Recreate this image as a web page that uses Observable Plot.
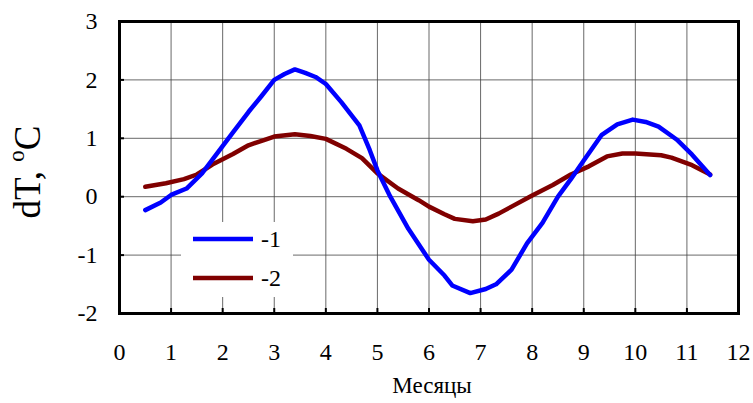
<!DOCTYPE html>
<html>
<head>
<meta charset="utf-8">
<script src="https://cdn.jsdelivr.net/npm/d3@7"></script>
<script src="https://cdn.jsdelivr.net/npm/@observablehq/plot@0.6"></script>
<style>
  html, body { margin: 0; padding: 0; background: #fff; }
  #wrap { position: relative; width: 753px; height: 403px; font-family: "Liberation Serif", "Times New Roman", serif; }
  #wrap svg text { font-family: "Liberation Serif", "Times New Roman", serif; }
  #ytitle { position: absolute; left: 27px; top: 172px; transform: translate(-50%, -50%) rotate(-90deg); font-size: 37px; white-space: nowrap; color: #000; font-family: "Liberation Serif", serif; line-height: 1; }
  #ytitle sup { font-size: 23px; position: relative; top: -3px; }
  #xtitle { position: absolute; left: 432px; top: 386px; transform: translate(-50%, -50%); font-size: 23px; color: #000; font-family: "Liberation Serif", serif; }
  #legend { position: absolute; left: 181px; top: 222px; width: 112px; height: 75px; background: #fff; }
  #legend svg { display: block; }
</style>
</head>
<body>
<div id="wrap"></div>
<script>
const months = [0, 1, 2, 3, 4, 5, 6, 7, 8, 9, 10, 11, 12];
const yTicks = [-2, -1, 0, 1, 2, 3];
const seriesNames = ["-1", "-2"];
const seriesColors = ["#0000ff", "#800000"];

const x1 = [0.5, 0.8, 1.0, 1.3, 1.6, 1.9, 2.2, 2.5, 2.75, 3.0, 3.2, 3.4, 3.6, 3.8, 4.0, 4.3, 4.65, 4.85, 5.0, 5.25, 5.6, 6.0, 6.3, 6.45, 6.8, 7.1, 7.3, 7.6, 7.9, 8.2, 8.5, 8.75, 9.0, 9.35, 9.65, 9.95, 10.2, 10.45, 10.8, 11.1, 11.45];
const y1 = [-0.23, -0.1, 0.03, 0.14, 0.4, 0.75, 1.1, 1.45, 1.72, 2.0, 2.1, 2.18, 2.12, 2.05, 1.93, 1.62, 1.22, 0.8, 0.45, 0.0, -0.55, -1.08, -1.35, -1.52, -1.65, -1.58, -1.5, -1.25, -0.8, -0.45, 0.0, 0.3, 0.62, 1.06, 1.24, 1.32, 1.28, 1.2, 0.98, 0.72, 0.37];

const x2 = [0.5, 0.9, 1.25, 1.5, 1.8, 2.2, 2.5, 2.8, 3.0, 3.4, 3.7, 4.0, 4.4, 4.7, 5.0, 5.4, 5.8, 6.0, 6.3, 6.5, 6.85, 7.1, 7.35, 7.6, 8.0, 8.4, 8.75, 9.1, 9.45, 9.75, 10.0, 10.5, 10.7, 11.1, 11.45];
const y2 = [0.17, 0.23, 0.3, 0.38, 0.55, 0.73, 0.88, 0.97, 1.03, 1.07, 1.04, 0.99, 0.82, 0.66, 0.4, 0.14, -0.06, -0.17, -0.3, -0.38, -0.42, -0.39, -0.29, -0.17, 0.02, 0.2, 0.38, 0.52, 0.69, 0.74, 0.74, 0.71, 0.67, 0.54, 0.38];

const s1 = x1.map((x, i) => ({x, y: y1[i]}));
const s2 = x2.map((x, i) => ({x, y: y2[i]}));

const serif = "Liberation Serif, Times New Roman, serif";
const fmt = d => String(d);

const chart = Plot.plot({
  width: 753,
  height: 403,
  marginLeft: 119,
  marginRight: 15,
  marginTop: 21,
  marginBottom: 90,
  style: { fontFamily: serif, fontSize: "23px", color: "#000", background: "#fff" },
  x: { domain: [0, 12] },
  y: { domain: [-2, 3] },
  marks: [
    Plot.gridX(months, { stroke: "#444", strokeOpacity: 0.8, strokeWidth: 1 }),
    Plot.gridY(yTicks, { stroke: "#444", strokeOpacity: 0.8, strokeWidth: 1 }),
    Plot.line(s2, { x: "x", y: "y", stroke: seriesColors[1], strokeWidth: 4.5 }),
    Plot.line(s1, { x: "x", y: "y", stroke: seriesColors[0], strokeWidth: 4.5 }),
    Plot.axisX(months, { tickSize: -5, tickPadding: 34, strokeWidth: 2, label: null, fontSize: 24, fontFamily: serif, tickFormat: fmt }),
    Plot.axisY(yTicks, { tickSize: -5, tickPadding: 27, strokeWidth: 2, label: null, fontSize: 24, fontFamily: serif, tickFormat: fmt }),
    Plot.frame({ stroke: "#000", strokeWidth: 3 })
  ]
});

const wrap = document.getElementById("wrap");
wrap.appendChild(chart);

const yt = document.createElement("div");
yt.id = "ytitle";
yt.innerHTML = "dT, <sup>o</sup>C";
wrap.appendChild(yt);

const xt = document.createElement("div");
xt.id = "xtitle";
xt.textContent = "Месяцы";
wrap.appendChild(xt);

const lg = document.createElement("div");
lg.id = "legend";
let svg = '<svg width="112" height="75" xmlns="http://www.w3.org/2000/svg" style="font-family: \'Liberation Serif\', serif; font-size: 24px">';
seriesNames.forEach((n, i) => {
  const yy = 17 + i * 39;
  svg += `<line x1="12" x2="72" y1="${yy}" y2="${yy}" stroke="${seriesColors[i]}" stroke-width="4.5"/>`;
  svg += `<text x="80" y="${yy + 8}" fill="#000">${n}</text>`;
});
svg += '</svg>';
lg.innerHTML = svg;
wrap.appendChild(lg);
</script>
</body>
</html>
